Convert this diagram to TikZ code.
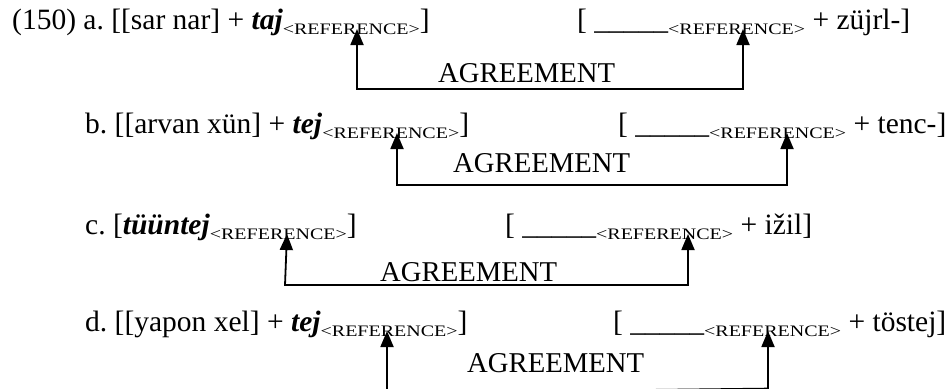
\documentclass[tikz,border=0pt]{standalone}
\usepackage{fontspec}
\setmainfont{Liberation Serif}
\newfontfamily\reffont[FakeStretch=1.25]{Liberation Serif}
\usetikzlibrary{arrows.meta}
\newcommand\refsub{\raisebox{-5pt}{\fontsize{16pt}{16pt}\selectfont\reffont <REFERENCE>}}
\newcommand\blank{\_\_\_\_\_}
\newcommand\bi[1]{\textbf{\textit{#1}}}
\frenchspacing
\tikzset{
  line/.style={anchor=base west, inner sep=0pt, font=\fontsize{29.5pt}{34pt}\selectfont},
  agrlabel/.style={anchor=base west, inner sep=0pt, font=\fontsize{28.7pt}{34pt}\selectfont},
  agr/.style={line width=1.8pt, {Triangle[width=13pt,length=16pt]}-{Triangle[width=13pt,length=16pt]}}
}
\begin{document}
\begin{tikzpicture}[x=1pt,y=-1pt]
\useasboundingbox (0,0) rectangle (952,388);
% row a
\node[line] (aL) at (12,29) {(150) a. [[sar nar] + \bi{taj}\refsub]};
\node[line] (aR) at (577,29) {[ \blank\refsub{} + züjrl-]};
\node[agrlabel] (aA) at (438,82) {AGREEMENT};
\coordinate (aT1) at (357,29);
\coordinate (aC1) at (357,89);
\coordinate (aC2) at (743,89);
\coordinate (aT2) at (743,29);
\draw[agr] (aT1) -- (aC1) -- (aC2) -- (aT2);
% row b
\node[line] (bL) at (85,133) {b. [[arvan xün] + \bi{tej}\refsub]};
\node[line] (bR) at (618,133) {[ \blank\refsub{} + tenc-]};
\node[agrlabel] (bA) at (453,172) {AGREEMENT};
\coordinate (bT1) at (397,133);
\coordinate (bC1) at (397,185);
\coordinate (bC2) at (787,185);
\coordinate (bT2) at (787,133);
\draw[agr] (bT1) -- (bC1) -- (bC2) -- (bT2);
% row c
\node[line] (cL) at (85,234) {c. [\bi{tüüntej}\refsub]};
\node[line] (cR) at (505,234) {[ \blank\refsub{} + ižil]};
\node[agrlabel] (cA) at (380,281) {AGREEMENT};
\coordinate (cT1) at (287,234);
\coordinate (cC1) at (285,285);
\coordinate (cC2) at (688,285);
\coordinate (cT2) at (688,234);
\draw[agr] (cT1) -- (cC1) -- (cC2) -- (cT2);
% row d
\node[line] (dL) at (85,331) {d. [[yapon xel] + \bi{tej}\refsub]};
\node[line] (dR) at (613,331) {[ \blank\refsub{} + töstej]};
\node[agrlabel] (dA) at (467,372) {AGREEMENT};
\coordinate (dT1) at (387,331);
\coordinate (dC1) at (387,393);
\coordinate (dC2) at (768,388.6);
\coordinate (dT2) at (768,331);
\draw[agr] (dT1) -- (dC1) -- (dC2) -- (dT2);
\end{tikzpicture}
\end{document}
